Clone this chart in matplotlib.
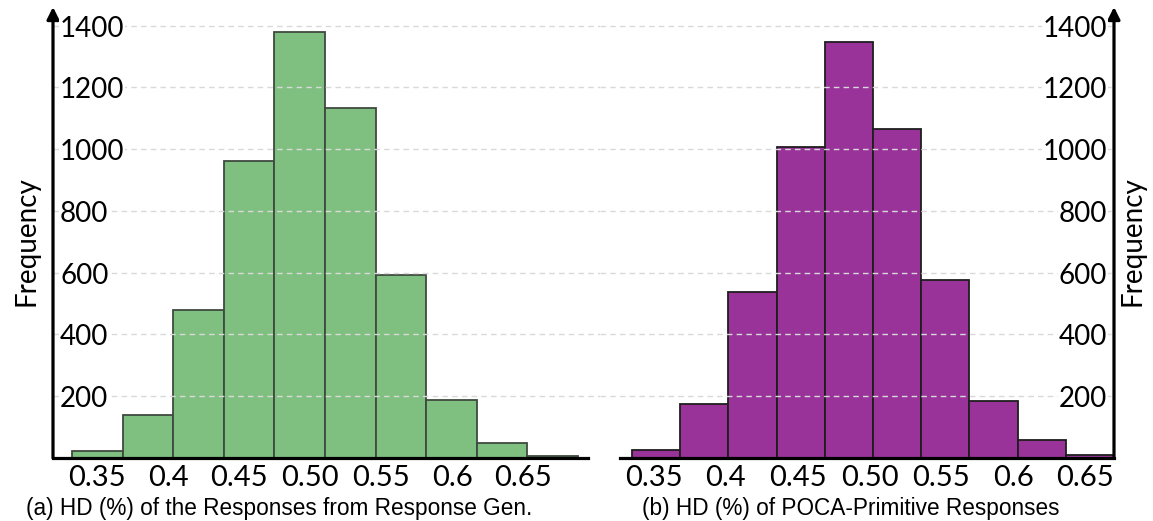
import matplotlib
matplotlib.use("Agg")
import matplotlib.pyplot as plt
import matplotlib.transforms as mtransforms
import numpy as np

plt.rcParams['font.family'] = ['Lato', 'DejaVu Sans']

# histogram counts
gen_counts = [22, 140, 478, 960, 1380, 1132, 593, 189, 49, 6]
poca_counts = [26, 175, 538, 1006, 1346, 1065, 577, 185, 58, 10]

# bins (HD values)
gen_start, gen_width = 0.3324, 0.03563
poca_start, poca_width = 0.3347, 0.03354

x_ticks = [0.35, 0.40, 0.45, 0.50, 0.55, 0.60, 0.65]
x_ticklabels = ["0.35", "0.4", "0.45", "0.50", "0.55", "0.6", "0.65"]
y_ticks = [200, 400, 600, 800, 1000, 1200, 1400]

W, H = 1153, 521
fig = plt.figure(figsize=(W / 100, H / 100), dpi=100)

base_px, top_px = 458, 7
ymax = 1460


def px_axes(x0, x1):
    return fig.add_axes([x0 / W, 1 - base_px / H, (x1 - x0) / W, (base_px - top_px) / H])


def draw_hist(ax, counts, start, width, face, edge):
    edges = start + width * np.arange(len(counts))
    ax.bar(edges, counts, width=width, align='edge', color=face,
           edgecolor=edge, linewidth=1.3, zorder=1)
    ax.set_ylim(0, ymax)
    ax.set_yticks(y_ticks)
    ax.tick_params(axis='y', length=0, labelleft=False, labelright=False)
    ax.grid(axis='y', linestyle=(0, (4, 3)), color='#d9d9d9', linewidth=1.0)
    ax.set_axisbelow(False)
    ax.set_xticks(x_ticks)
    ax.set_xticklabels(x_ticklabels, fontsize=21)
    ax.tick_params(axis='x', length=0, pad=5)
    for s in ['top', 'left', 'right']:
        ax.spines[s].set_visible(False)
    ax.spines['bottom'].set_linewidth(2.3)
    ax.patch.set_alpha(0)


def y_labels(ax, xpos, ha):
    shift = mtransforms.ScaledTranslation(0, -3 / 100, fig.dpi_scale_trans)
    for v in y_ticks:
        ax.text(xpos, v, str(v), transform=ax.get_yaxis_transform() + shift,
                fontsize=20, ha=ha, va='center', zorder=4,
                bbox=dict(facecolor='white', edgecolor='none', pad=0.5))


def axis_arrow(ax, x):
    ax.annotate('', xy=(x, 1), xytext=(x, 0), xycoords='axes fraction',
                textcoords='axes fraction',
                arrowprops=dict(arrowstyle='-|>', lw=2.3, color='black',
                                mutation_scale=18, shrinkA=0, shrinkB=0))


# (a) left panel
ax1 = px_axes(53, 600)
draw_hist(ax1, gen_counts, gen_start, gen_width, '#7fbf7f', '#3f4a3f')
ax1.set_xlim(0.319, 0.7042)
ax1.spines['bottom'].set_bounds(0.319, 0.6958)
axis_arrow(ax1, 0)
y_labels(ax1, 7 / 547, 'left')

# (b) right panel
ax2 = px_axes(600, 1114)
draw_hist(ax2, poca_counts, poca_start, poca_width, '#993399', '#1e1e1e')
poca_end = poca_start + poca_width * len(poca_counts)
ax2.set_xlim(0.3125, poca_end)
ax2.spines['bottom'].set_bounds(0.3264, poca_end)
axis_arrow(ax2, 1)
y_labels(ax2, 1 - 7 / 514, 'right')

fig.text(27 / W, 1 - 241 / H, "Frequency", rotation=90, fontsize=20,
         ha='center', va='center')
fig.text(1133 / W, 1 - 241 / H, "Frequency", rotation=90, fontsize=20,
         ha='center', va='center')

fig.text(279 / W, 1 - 508 / H, "(a) HD (%) of the Responses from Response Gen.",
         fontsize=16.3, family='Liberation Sans', ha='center', va='center')
fig.text(851 / W, 1 - 508 / H, "(b) HD (%) of POCA-Primitive Responses",
         fontsize=16.3, family='Liberation Sans', ha='center', va='center')

fig.savefig("out.png", dpi=100)
